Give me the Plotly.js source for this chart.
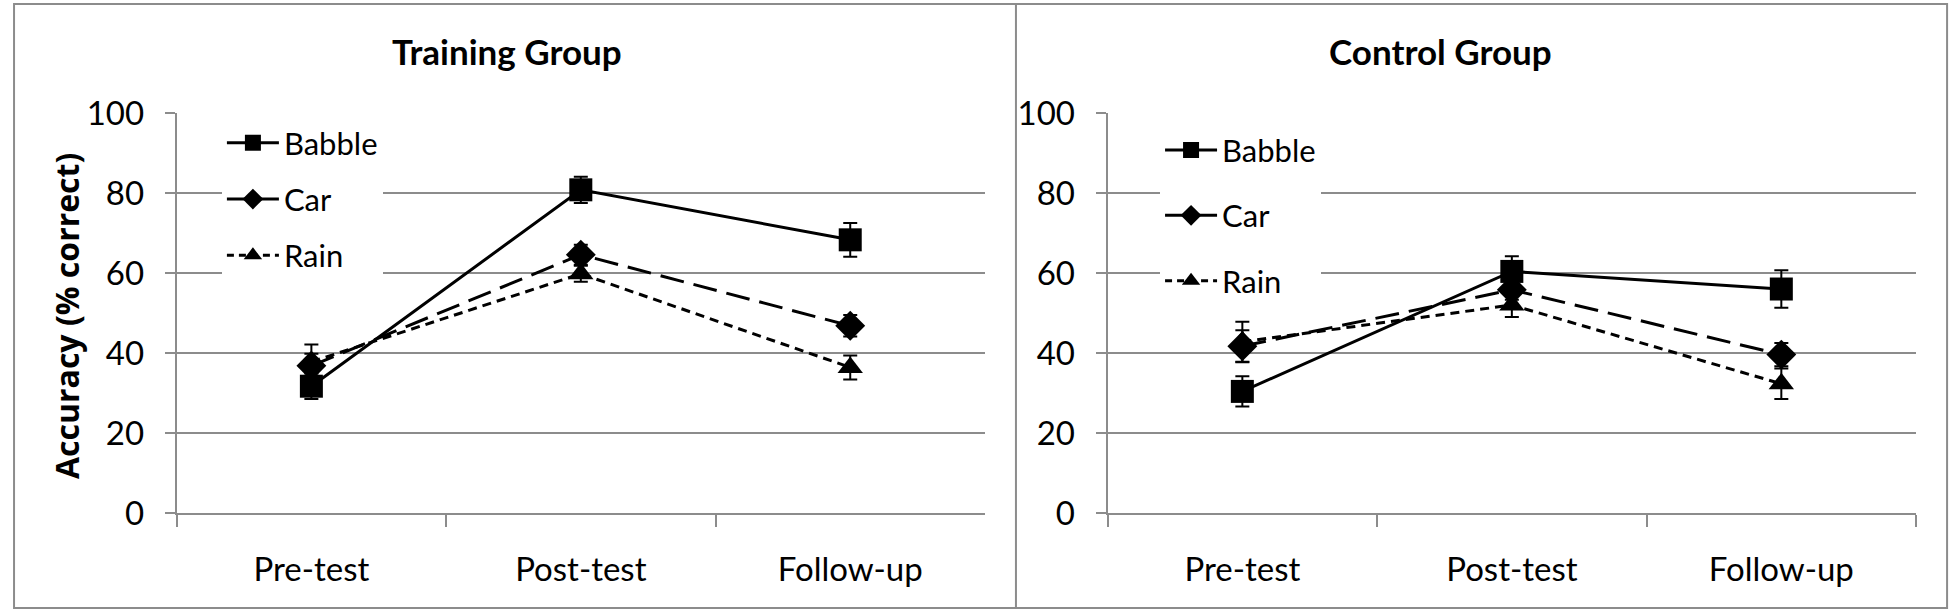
<!DOCTYPE html>
<html>
<head>
<meta charset="utf-8">
<script src="https://cdn.plot.ly/plotly-3.0.1.min.js"></script>
<style>
html, body { margin: 0; padding: 0; background: #fff; }
#chart { width: 1950px; height: 611px; }
</style>
</head>
<body>
<div id="chart"></div>
<script>
// Test phases (x categories)
const phases = ['Pre-test', 'Post-test', 'Follow-up'];
const noiseNames = ['Babble', 'Car', 'Rain'];

// Training group, accuracy (% correct) and error bars
const trainBabble = [31.7, 80.8, 68.3];
const trainBabbleErr = [3.2, 3.3, 4.2];
const trainCar = [36.8, 64.6, 46.8];
const trainCarErr = [3.0, 2.5, 2.7];
const trainRain = [37.8, 59.8, 36.4];
const trainRainErr = [4.3, 2.0, 3.0];

// Control group
const ctrlBabble = [30.4, 60.4, 56.0];
const ctrlBabbleErr = [3.8, 3.8, 4.7];
const ctrlCar = [41.7, 55.8, 39.6];
const ctrlCarErr = [4.0, 2.5, 2.9];
const ctrlRain = [42.8, 52.0, 32.3];
const ctrlRainErr = [5.0, 3.0, 3.8];

const gridGray = '#8c8c8c';
const styles = {
    'Babble': { symbol: 'square', size: 23, dash: 'solid', legendDash: 'solid' },
    'Car':    { symbol: 'diamond', size: 23, dash: '24px,10px', legendDash: 'solid' },
    'Rain':   { symbol: 'triangle-up', size: 22, dash: '9px,6px', legendDash: '7px,5px' }
};

const panels = [
    { xa: 'x', ya: 'y', legend: 'legend', values: [trainBabble, trainCar, trainRain], errs: [trainBabbleErr, trainCarErr, trainRainErr] },
    { xa: 'x2', ya: 'y2', legend: 'legend2', values: [ctrlBabble, ctrlCar, ctrlRain], errs: [ctrlBabbleErr, ctrlCarErr, ctrlRainErr] }
];

const traces = [];
panels.forEach((p, pi) => {
    noiseNames.forEach((name, i) => {
        const s = styles[name];
        traces.push({
            x: phases,
            y: p.values[i],
            xaxis: p.xa,
            yaxis: p.ya,
            mode: 'lines+markers',
            name: name,
            showlegend: false,
            cliponaxis: false,
            line: { color: '#000', width: 3, dash: s.dash },
            marker: { symbol: s.symbol, size: s.size, color: '#000' },
            error_y: { type: 'data', array: p.errs[i], visible: true, color: '#000', thickness: 2, width: 7 }
        });
    });
    // legend entries (Excel shows Car with a solid line in the key)
    noiseNames.forEach((name) => {
        const s = styles[name];
        traces.push({
            x: [phases[0]],
            y: [null],
            xaxis: p.xa,
            yaxis: p.ya,
            mode: 'lines+markers',
            name: name,
            legend: p.legend,
            legendgroup: name + pi,
            line: { color: '#000', width: 3, dash: s.legendDash },
            marker: { symbol: s.symbol, size: 16, color: '#000' }
        });
    });
});

const tickFont = { family: 'Lato, sans-serif', size: 33, color: '#000' };

function xAxis(domain, anchor) {
    return {
        domain: domain, anchor: anchor, type: 'category', range: [-0.5, 2.5],
        showline: true, linecolor: gridGray, linewidth: 2,
        ticks: 'outside', ticklen: 12, tickwidth: 2, tickcolor: gridGray,
        tickson: 'boundaries', showgrid: false, zeroline: false,
        tickfont: tickFont, ticklabelstandoff: 26, automargin: false, fixedrange: true
    };
}
function yAxis(anchor) {
    return {
        domain: [0.1604, 0.815], anchor: anchor, range: [0, 100], dtick: 20,
        showline: true, linecolor: gridGray, linewidth: 2,
        ticks: 'outside', ticklen: 10, tickwidth: 2, tickcolor: gridGray,
        showgrid: true, gridcolor: gridGray, gridwidth: 2, zeroline: false,
        tickfont: tickFont, ticklabelstandoff: 14, automargin: false, fixedrange: true
    };
}

const legendFont = { family: 'Lato, sans-serif', size: 31, color: '#000' };
const titleFont = { family: 'Lato, sans-serif', size: 35, weight: 700, color: '#000' };

const layout = {
    width: 1950,
    height: 611,
    margin: { l: 0, r: 0, t: 0, b: 0 },
    paper_bgcolor: '#fff',
    plot_bgcolor: '#fff',
    xaxis: xAxis([0.0906, 0.5051], 'y'),
    yaxis: yAxis('x'),
    xaxis2: xAxis([0.568, 0.9826], 'y2'),
    yaxis2: yAxis('x2'),
    legend: {
        x: 0.1138, y: 0.81, xanchor: 'left', yanchor: 'top',
        bgcolor: '#fff', borderwidth: 0, font: legendFont,
        traceorder: 'grouped', tracegroupgap: 13, itemwidth: 52
    },
    legend2: {
        x: 0.5949, y: 0.798, xanchor: 'left', yanchor: 'top',
        bgcolor: '#fff', borderwidth: 0, font: legendFont,
        traceorder: 'grouped', tracegroupgap: 22, itemwidth: 52
    },
    annotations: [
        { text: 'Training Group', xref: 'paper', yref: 'paper', x: 0.26, y: 0.9165,
          xanchor: 'center', yanchor: 'middle', showarrow: false, font: titleFont },
        { text: 'Control Group', xref: 'paper', yref: 'paper', x: 0.7385, y: 0.9165,
          xanchor: 'center', yanchor: 'middle', showarrow: false, font: titleFont },
        { text: 'Accuracy (% correct)', xref: 'paper', yref: 'paper', x: 0.0344, y: 0.483,
          xanchor: 'center', yanchor: 'middle', showarrow: false, textangle: -90,
          font: { family: 'Open Sans, sans-serif', size: 32, weight: 700, color: '#000' } }
    ],
    shapes: [
        // outer frame and divider between the two panels
        { type: 'rect', xref: 'paper', yref: 'paper', x0: 0.0072, x1: 0.9985, y0: 0.005, y1: 0.9935,
          line: { color: gridGray, width: 2 } },
        { type: 'line', xref: 'paper', yref: 'paper', x0: 0.521, x1: 0.521, y0: 0.005, y1: 0.9935,
          line: { color: gridGray, width: 2 } },
        // white key areas hide the gridlines behind each legend
        { type: 'rect', xref: 'paper', yref: 'paper', layer: 'between', x0: 0.0915, x1: 0.203, y0: 0.535, y1: 0.8,
          fillcolor: '#fff', line: { width: 0 } },
        { type: 'rect', xref: 'paper', yref: 'paper', layer: 'between', x0: 0.5691, x1: 0.69, y0: 0.51, y1: 0.8,
          fillcolor: '#fff', line: { width: 0 } }
    ],
    showlegend: true
};

Plotly.newPlot('chart', traces, layout, { displayModeBar: false, staticPlot: true });
</script>
</body>
</html>
